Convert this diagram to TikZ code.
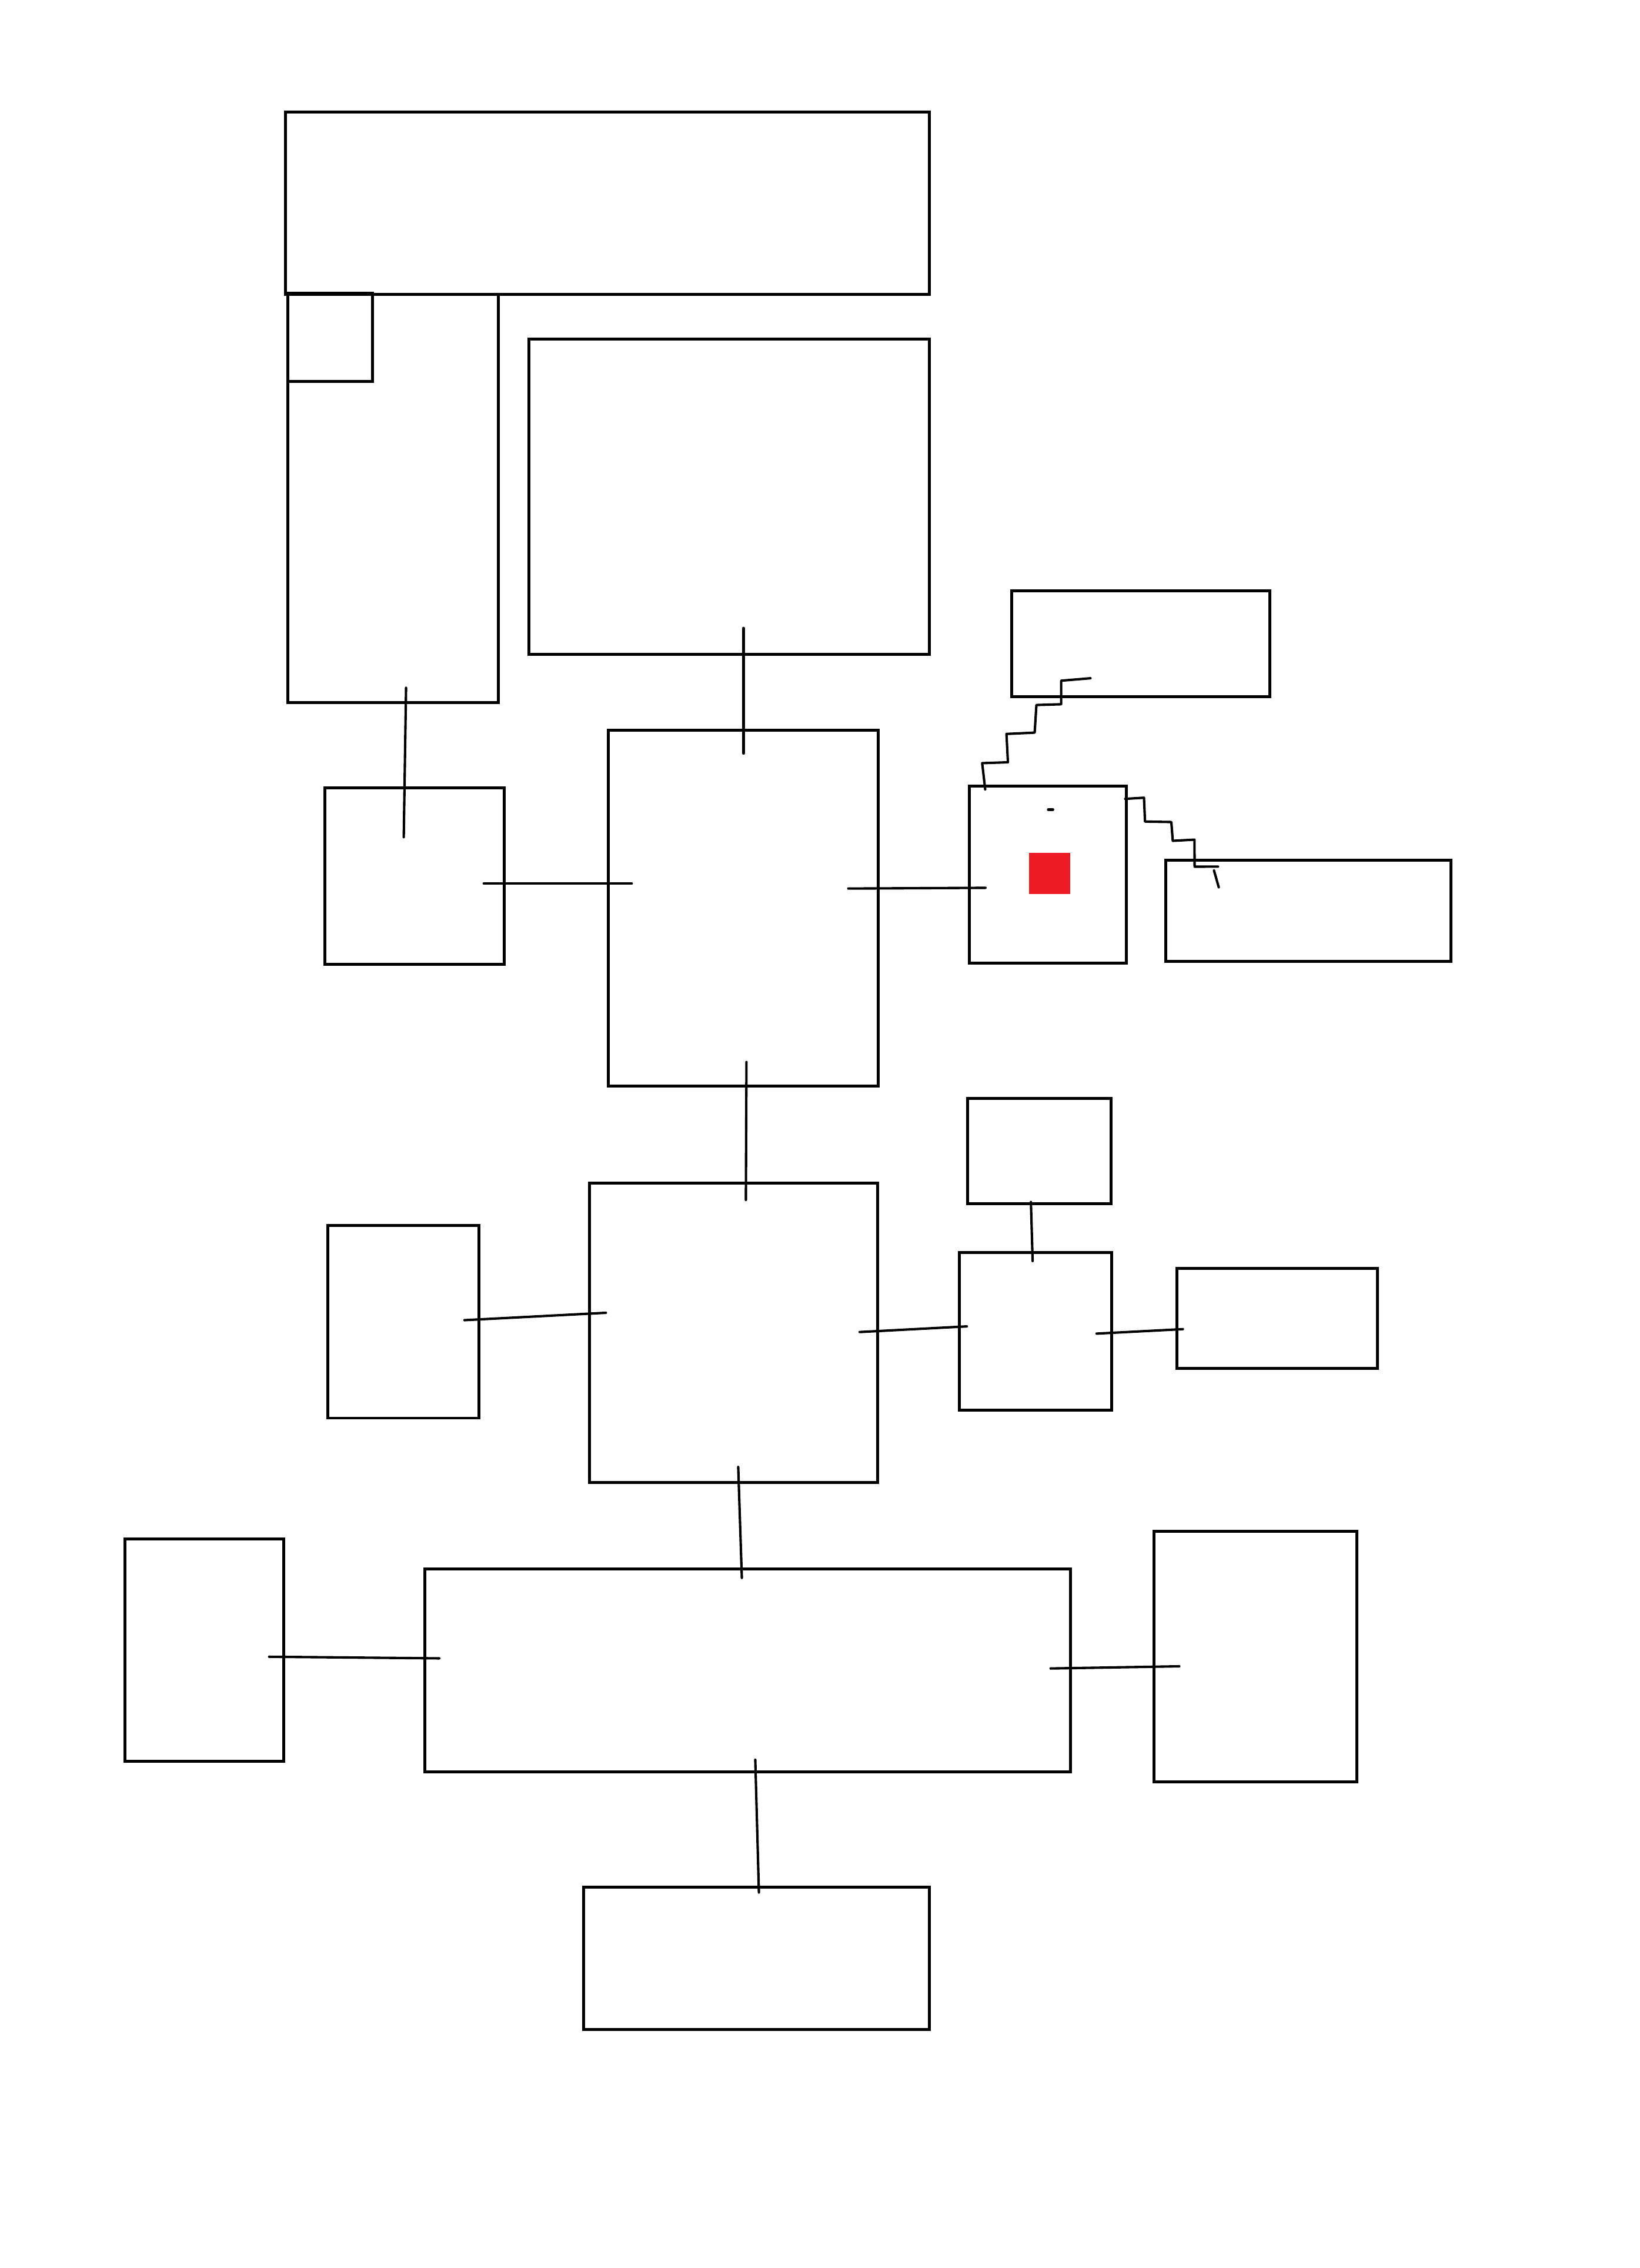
\documentclass[tikz,border=0pt]{standalone}
\definecolor{redfill}{RGB}{237,28,36}
\tikzset{
  box/.style={draw=black, line width=1.15pt, inner sep=0pt, outer sep=0pt},
  conn/.style={draw=black, line width=0.95pt, line cap=round, line join=round}
}
\newcommand\bx[5]{\node[box, anchor=north west, minimum width={(#4-#2)*0.02cm}, minimum height={(#5-#3)*0.02cm}] (#1) at (#2,#3) {};}
\begin{document}
\begin{tikzpicture}[x=0.02cm, y=-0.02cm]
\useasboundingbox[fill=white] (0,0) rectangle (1134,1568);
% boxes
\bx{top}{197.6}{77.3}{642.8}{203.7}
\bx{tall}{198.9}{203.7}{344.5}{485.6}
\bx{corner}{198.9}{202.8}{257.7}{263.6}
\bx{upr}{365.7}{234.5}{642.7}{452.5}
\bx{note}{699.6}{408.5}{878.3}{481.6}
\bx{lmid}{224.8}{544.8}{348.5}{666.7}
\bx{center}{420.5}{504.8}{607.3}{751.0}
\bx{redbox}{670.3}{543.5}{779.0}{665.7}
\bx{rnote}{806.2}{594.6}{1003.5}{664.6}
\bx{small}{669.1}{759.3}{768.3}{832.1}
\bx{lmid2}{226.6}{847.3}{331.2}{980.4}
\bx{center2}{407.7}{818.1}{606.9}{1025.0}
\bx{mid2}{663.6}{866.0}{768.6}{975.0}
\bx{rmid2}{813.7}{876.9}{952.5}{946.2}
\bx{farleft}{86.5}{1064.0}{196.1}{1217.7}
\bx{wide}{293.8}{1084.7}{740.2}{1225.1}
\bx{rtall}{798.1}{1058.6}{938.2}{1231.7}
\bx{bottom}{403.4}{1304.5}{642.5}{1402.9}
% red marker and dot
\node[fill=redfill, draw=none, inner sep=0pt, anchor=north west, minimum width={28.5*0.02cm}, minimum height={28.4*0.02cm}] (redsq) at (711.4,589.4) {};
\coordinate (dota) at (725.0,559.7);
\coordinate (dotb) at (728.0,559.7);
\draw[conn, line width=1.2pt] (dota) -- (dotb);
% straight connectors
\coordinate (c1a) at (280.8,475.5); \coordinate (c1b) at (279.2,578.8);
\coordinate (c2a) at (514.2,434.2); \coordinate (c2b) at (514.2,520.9);
\coordinate (c3a) at (334.5,610.9); \coordinate (c3b) at (436.9,610.9);
\coordinate (c4a) at (586.6,614.3); \coordinate (c4b) at (681.5,613.8);
\coordinate (c5a) at (516.2,734.2); \coordinate (c5b) at (515.8,829.6);
\coordinate (c6a) at (712.9,831.0); \coordinate (c6b) at (714.1,871.8);
\coordinate (c7a) at (321.2,912.7); \coordinate (c7b) at (419.0,907.6);
\coordinate (c8a) at (594.5,920.9); \coordinate (c8b) at (668.6,917.0);
\coordinate (c9a) at (758.3,922.0); \coordinate (c9b) at (818.0,918.9);
\coordinate (c10a) at (510.5,1014.2); \coordinate (c10b) at (513.0,1090.9);
\coordinate (c11a) at (186.1,1145.4); \coordinate (c11b) at (303.8,1146.5);
\coordinate (c12a) at (726.5,1153.5); \coordinate (c12b) at (815.5,1152.0);
\coordinate (c13a) at (522.3,1216.6); \coordinate (c13b) at (524.8,1308.4);
\foreach \i in {1,...,13} { \draw[conn] (c\i a) -- (c\i b); }
% stair connector redbox -> note
\coordinate (s1) at (681.3,545.8);
\coordinate (s2) at (679.2,527.6);
\coordinate (s3) at (697.0,527.0);
\coordinate (s4) at (696.0,507.4);
\coordinate (s5) at (715.5,506.5);
\coordinate (s6) at (716.7,487.4);
\coordinate (s7) at (733.8,486.9);
\coordinate (s8) at (733.8,470.6);
\coordinate (s9) at (754.1,468.9);
\draw[conn] (s1) -- (s2) -- (s3) -- (s4) -- (s5) -- (s6) -- (s7) -- (s8) -- (s9);
% stair connector redbox -> rnote
\coordinate (t1) at (778.1,552.3);
\coordinate (t2) at (791.1,551.5);
\coordinate (t3) at (791.8,568.0);
\coordinate (t4) at (810.0,568.3);
\coordinate (t5) at (811.0,581.3);
\coordinate (t6) at (826.0,580.5);
\coordinate (t7) at (826.1,599.2);
\coordinate (t8) at (842.3,599.1);
\coordinate (t9) at (839.5,601.8);
\coordinate (t10) at (842.8,613.4);
\draw[conn] (t1) -- (t2) -- (t3) -- (t4) -- (t5) -- (t6) -- (t7) -- (t8);
\draw[conn] (t9) -- (t10);
\end{tikzpicture}
\end{document}
